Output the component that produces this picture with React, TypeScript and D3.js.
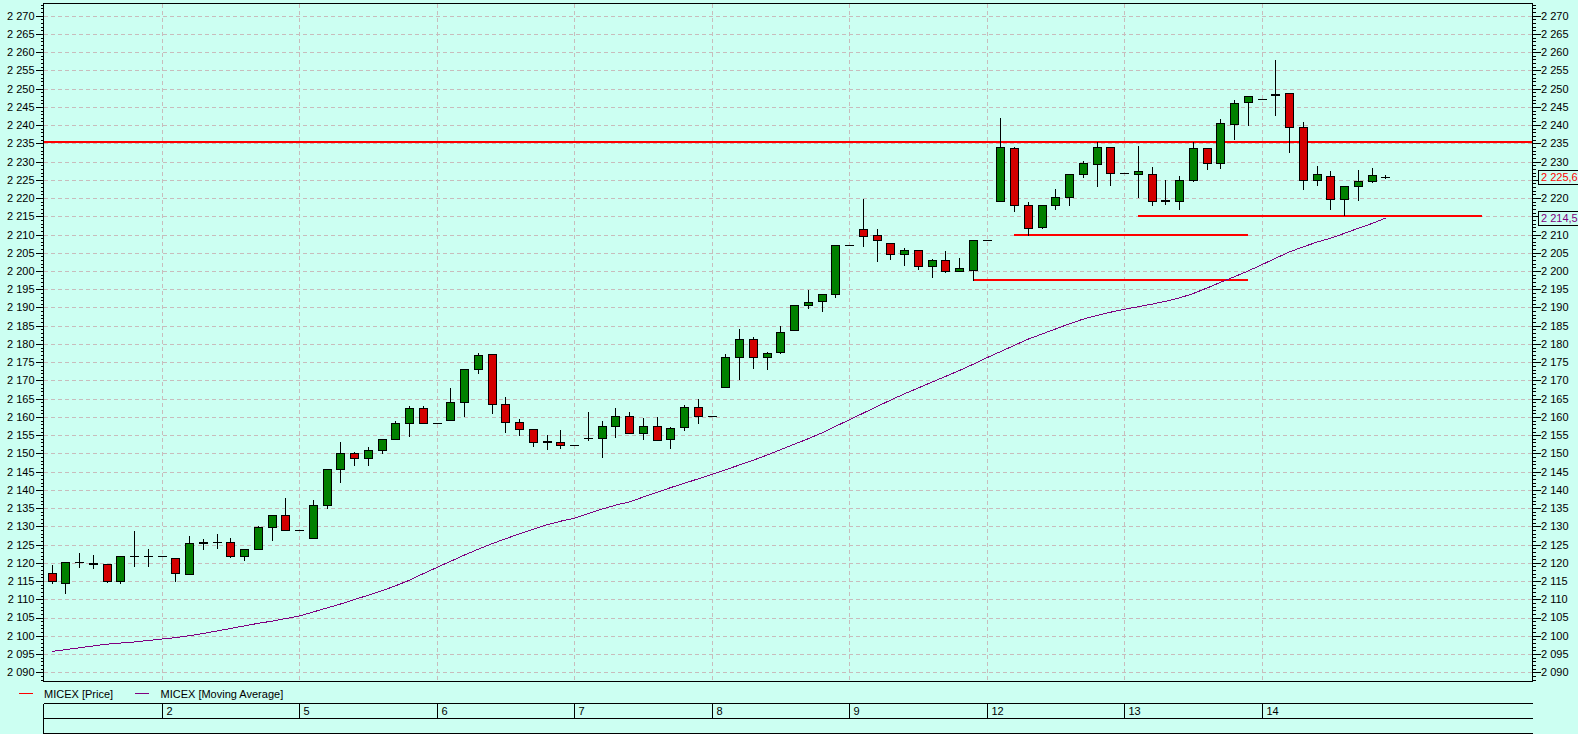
import React from "react";
import * as d3 from "d3";

// ---- data (hourly MICEX candles) ----
const opens = [
  2117.3, 2114.6, 2120.1, 2120.0, 2119.8, 2115.1, 2122.0, 2122.0, 2122.0, 2121.2,
  2116.8, 2125.3, 2125.8, 2125.6, 2122.0, 2123.9, 2129.7, 2133.2, 2129.0, 2126.8,
  2135.8, 2145.7, 2150.1, 2148.7, 2150.9, 2153.9, 2158.3, 2162.4, 2158.3, 2159.2,
  2164.1, 2173.1, 2177.3, 2163.5, 2158.6, 2156.7, 2153.4, 2153.2, 2152.4, 2154.2,
  2154.3, 2157.4, 2160.3, 2155.7, 2157.6, 2154.0, 2157.3, 2162.8, 2160.3, 2168.3,
  2176.3, 2181.5, 2176.3, 2177.9, 2183.7, 2190.8, 2191.9, 2193.8, 2207.0, 2211.4,
  2210.0, 2207.8, 2204.8, 2205.9, 2201.5, 2202.9, 2200.1, 2200.4, 2208.6, 2219.1,
  2233.6, 2218.0, 2212.2, 2218.0, 2220.2, 2226.7, 2229.3, 2233.9, 2226.8, 2226.6,
  2226.6, 2219.4, 2219.3, 2225.0, 2233.8, 2229.7, 2240.3, 2246.4, 2247.1, 2248.5,
  2248.8, 2239.5, 2225.0, 2226.1, 2219.8, 2223.3, 2224.7, 2225.7,
];
const highs = [
  2119.4, 2120.1, 2122.8, 2122.1, 2119.8, 2122.0, 2128.6, 2123.9, 2122.0, 2121.2,
  2127.3, 2126.5, 2127.9, 2126.8, 2123.9, 2130.0, 2133.2, 2137.7, 2129.0, 2137.3,
  2145.7, 2153.1, 2150.4, 2151.8, 2153.9, 2158.9, 2163.0, 2163.0, 2158.3, 2167.9,
  2173.1, 2177.5, 2177.3, 2165.5, 2159.4, 2156.7, 2155.0, 2156.3, 2152.4, 2161.3,
  2158.9, 2162.4, 2161.4, 2159.6, 2159.9, 2157.3, 2163.3, 2165.0, 2160.3, 2177.3,
  2184.2, 2182.0, 2177.9, 2185.0, 2190.8, 2194.9, 2193.8, 2207.0, 2207.0, 2219.7,
  2211.4, 2207.8, 2206.2, 2205.9, 2203.2, 2205.6, 2203.7, 2208.6, 2208.6, 2241.9,
  2233.9, 2218.8, 2218.0, 2222.4, 2226.7, 2230.3, 2235.3, 2233.9, 2226.8, 2234.3,
  2228.5, 2225.0, 2226.1, 2235.4, 2233.8, 2241.7, 2247.0, 2248.0, 2247.1, 2257.9,
  2248.8, 2240.9, 2228.8, 2227.5, 2223.3, 2227.7, 2228.3, 2226.3,
];
const lows = [
  2114.5, 2111.6, 2118.9, 2118.6, 2114.8, 2114.5, 2119.2, 2119.2, 2122.0, 2115.1,
  2116.8, 2123.8, 2124.1, 2121.7, 2120.9, 2123.9, 2126.3, 2129.1, 2129.0, 2126.8,
  2135.0, 2142.1, 2146.7, 2146.7, 2150.0, 2153.9, 2154.7, 2158.3, 2158.3, 2159.2,
  2160.2, 2172.0, 2161.1, 2155.8, 2155.0, 2152.0, 2151.2, 2151.4, 2152.4, 2153.6,
  2148.9, 2154.6, 2155.7, 2154.0, 2153.8, 2151.5, 2156.4, 2158.4, 2160.3, 2168.3,
  2170.4, 2173.5, 2173.2, 2177.6, 2183.7, 2189.8, 2189.1, 2193.0, 2207.0, 2206.9,
  2202.8, 2203.3, 2201.7, 2200.5, 2198.4, 2199.6, 2200.0, 2197.6, 2208.6, 2219.1,
  2216.5, 2210.0, 2211.7, 2217.1, 2218.0, 2225.9, 2223.4, 2223.5, 2226.8, 2220.2,
  2218.0, 2218.3, 2216.9, 2224.7, 2228.0, 2228.3, 2236.1, 2240.1, 2247.1, 2242.9,
  2232.6, 2222.4, 2223.5, 2216.9, 2215.4, 2219.4, 2224.4, 2225.4,
];
const closes = [
  2114.9, 2120.1, 2120.1, 2119.8, 2115.1, 2122.0, 2122.0, 2122.0, 2122.0, 2117.1,
  2125.3, 2125.8, 2125.8, 2122.0, 2123.9, 2129.7, 2133.2, 2129.1, 2129.0, 2135.8,
  2145.7, 2150.1, 2148.7, 2150.9, 2153.9, 2158.3, 2162.4, 2158.3, 2158.3, 2164.1,
  2173.1, 2177.0, 2163.5, 2158.6, 2156.7, 2153.1, 2153.1, 2152.3, 2152.4, 2154.2,
  2157.4, 2160.3, 2155.7, 2157.6, 2153.8, 2157.0, 2162.8, 2160.3, 2160.3, 2176.5,
  2181.5, 2176.3, 2177.6, 2183.4, 2190.8, 2191.6, 2193.8, 2207.0, 2207.0, 2209.7,
  2208.4, 2204.8, 2205.9, 2201.3, 2202.9, 2199.9, 2200.7, 2208.6, 2208.6, 2233.9,
  2218.0, 2211.9, 2218.0, 2220.2, 2226.7, 2229.5, 2233.9, 2226.8, 2226.8, 2227.5,
  2219.3, 2219.2, 2225.0, 2233.8, 2229.7, 2240.6, 2246.1, 2248.0, 2247.1, 2248.3,
  2239.5, 2225.0, 2226.6, 2219.8, 2223.3, 2224.7, 2226.4, 2225.67,
];
const movingAverage = [
  2095.7, 2096.2, 2096.7, 2097.2, 2097.7, 2098.0, 2098.3, 2098.7, 2099.1, 2099.5,
  2100.0, 2100.6, 2101.3, 2102.0, 2102.7, 2103.4, 2104.0, 2104.7, 2105.4, 2106.5,
  2107.6, 2108.7, 2109.9, 2111.1, 2112.3, 2113.7, 2115.2, 2117.0, 2118.7, 2120.4,
  2122.1, 2123.7, 2125.2, 2126.6, 2127.9, 2129.2, 2130.4, 2131.4, 2132.2, 2133.5,
  2134.7, 2135.8, 2136.7, 2138.0, 2139.3, 2140.6, 2141.8, 2143.0, 2144.2, 2145.5,
  2146.8, 2148.1, 2149.5, 2151.0, 2152.5, 2154.0, 2155.6, 2157.4, 2159.2, 2161.0,
  2162.8, 2164.6, 2166.3, 2167.9, 2169.5, 2171.1, 2172.7, 2174.4, 2176.2, 2177.9,
  2179.6, 2181.3, 2182.7, 2184.1, 2185.5, 2186.8, 2187.8, 2188.7, 2189.5, 2190.2,
  2190.9, 2191.7, 2192.6, 2193.8, 2195.3, 2196.9, 2198.4, 2200.0, 2201.7, 2203.5,
  2205.2, 2206.6, 2207.9, 2209.0, 2210.3, 2211.7, 2213.0, 2214.51,
];
const dayLabels = ["2", "5", "6", "7", "8", "9", "12", "13", "14"];
const dayStartIndex = [8, 18, 28, 38, 48, 58, 68, 78, 88];
const levelPrices = [2235.3, 2209.9, 2197.6, 2215.2];
const levelFrom = [null, 70, 67, 79];
const levelTo = [null, 87, 87, 104];
const legendNames = ["MICEX [Price]", "MICEX [Moving Average]"];

// ---- styles ----
const W = 1578, H = 734;
const L = 43.5, R = 1532.5, T = 3.5, B = 681.5;
const BG = "#ccfff2";
const GREEN = "#008000";
const RED = "#d40000";
const LINE_RED = "#ff0000";
const PURPLE = "#800080";
const GRID = "#c8bcbc";
const FONT = "'Liberation Sans', Arial, sans-serif";

const locale = d3.formatLocale({ decimal: ",", thousands: " ", grouping: [3], currency: ["", ""] });
const fmtInt = locale.format(",d");
const fmtDec = locale.format(",.2f");

const px = (v: number) => Math.round(v) + 0.5;

export default function App() {
  const y = d3.scaleLinear().domain([2087.6, 2273.4]).range([681, 3.3]);
  const x = d3.scaleLinear().domain([0, 97]).range([51.7, 1385.45]);
  const majors = d3.range(2090, 2271, 5);
  const minors = d3.range(2088, 2274, 1);
  const maLine = d3
    .line<number>()
    .x((_, i) => x(i))
    .y((d) => y(d));
  const lastClose = closes[closes.length - 1];
  const lastMA = movingAverage[movingAverage.length - 1];
  const boxYs = [y(lastClose), y(lastMA)];
  const rightLabels = majors.filter((v) => boxYs.every((by) => Math.abs(y(v) - by) > 11));

  return (
    <svg
      width={W}
      height={H}
      style={{ position: "absolute", left: 0, top: 0, display: "block" }}
      fontFamily={FONT}
      fontSize={11}
    >
      <rect x={0} y={0} width={W} height={H} fill={BG} />
      {/* grid */}
      <g stroke={GRID} strokeWidth={1} strokeDasharray="4,3" shapeRendering="crispEdges">
        {majors.map((v) => (
          <line key={"h" + v} x1={L} x2={R} y1={px(y(v))} y2={px(y(v))} />
        ))}
        {dayStartIndex.map((i) => (
          <line key={"v" + i} x1={px(x(i))} x2={px(x(i))} y1={T} y2={B} />
        ))}
      </g>
      {/* horizontal level lines */}
      <g stroke={LINE_RED} strokeWidth={2} shapeRendering="crispEdges">
        {levelPrices.map((p, k) => (
          <line
            key={"lv" + k}
            x1={levelFrom[k] == null ? L : x(levelFrom[k] as number)}
            x2={levelTo[k] == null ? R : x(levelTo[k] as number)}
            y1={Math.round(y(p))}
            y2={Math.round(y(p))}
          />
        ))}
      </g>
      {/* moving average */}
      <path d={maLine(movingAverage) || ""} fill="none" stroke={PURPLE} strokeWidth={1} shapeRendering="crispEdges" />
      {/* candles */}
      <g shapeRendering="crispEdges">
        {closes.map((c, i) => {
          const o = opens[i];
          const cx = Math.round(x(i));
          const yh = Math.round(y(highs[i]));
          const yl = Math.round(y(lows[i]));
          const yo = Math.round(y(o));
          const yc = Math.round(y(c));
          const top = Math.min(yo, yc);
          const bot = Math.max(yo, yc);
          return (
            <g key={"c" + i}>
              {yh !== yl && <line x1={cx + 0.5} x2={cx + 0.5} y1={yh} y2={yl + 1} stroke="#000" strokeWidth={1} />}
              {bot - top < 1 ? (
                <line x1={cx - 4} x2={cx + 5} y1={top + 0.5} y2={top + 0.5} stroke="#000" strokeWidth={1} />
              ) : (
                <rect
                  x={cx - 3.5}
                  y={top + 0.5}
                  width={8}
                  height={bot - top}
                  fill={c >= o ? GREEN : RED}
                  stroke="#000"
                  strokeWidth={1}
                />
              )}
            </g>
          );
        })}
      </g>
      {/* plot frame */}
      <rect x={L} y={T} width={R - L} height={B - T} fill="none" stroke="#000" strokeWidth={1} shapeRendering="crispEdges" />
      {/* axes ticks */}
      <g stroke="#000" strokeWidth={1} shapeRendering="crispEdges">
        {minors.map((v) => (
          <line key={"lm" + v} x1={L - 3} x2={L} y1={px(y(v))} y2={px(y(v))} />
        ))}
        {majors.map((v) => (
          <line key={"lM" + v} x1={L - 8} x2={L} y1={px(y(v))} y2={px(y(v))} />
        ))}
        {minors.map((v) => (
          <line key={"rm" + v} x1={R} x2={R + 3} y1={px(y(v))} y2={px(y(v))} />
        ))}
        {majors.map((v) => (
          <line key={"rM" + v} x1={R} x2={R + 8} y1={px(y(v))} y2={px(y(v))} />
        ))}
      </g>
      <g fill="#000">
        {majors.map((v) => (
          <text key={"lt" + v} x={L - 9} y={y(v)} dy="0.36em" textAnchor="end">
            {fmtInt(v)}
          </text>
        ))}
        {rightLabels.map((v) => (
          <text key={"rt" + v} x={R + 8.5} y={y(v)} dy="0.36em">
            {fmtInt(v)}
          </text>
        ))}
      </g>
      {/* last value boxes */}
      <g>
        <rect x={1538.5} y={Math.round(y(lastClose)) - 6.5} width={60} height={14} fill={BG} stroke="#000" />
        <text x={1541} y={y(lastClose)} dy="0.36em" fill={LINE_RED}>
          {fmtDec(lastClose)}
        </text>
        <rect x={1538.5} y={Math.round(y(lastMA)) - 6.5} width={60} height={14} fill={BG} stroke="#000" />
        <text x={1541} y={y(lastMA)} dy="0.36em" fill={PURPLE}>
          {fmtDec(lastMA)}
        </text>
      </g>
      {/* legend */}
      <g>
        <line x1={19} x2={33} y1={693.5} y2={693.5} stroke={LINE_RED} strokeWidth={1} />
        <text x={44} y={697.5} fill="#000">{legendNames[0]}</text>
        <line x1={135} x2={149} y1={693.5} y2={693.5} stroke={PURPLE} strokeWidth={1} />
        <text x={160.5} y={697.5} fill="#000">{legendNames[1]}</text>
      </g>
      {/* date axis */}
      <g stroke="#000" strokeWidth={1} shapeRendering="crispEdges">
        <line x1={L} x2={R} y1={703.5} y2={703.5} />
        <line x1={L} x2={R} y1={718.5} y2={718.5} />
        <line x1={L} x2={R} y1={733.5} y2={733.5} />
        <line x1={L} x2={L} y1={703.5} y2={734} />
        {dayStartIndex.map((i) => (
          <line key={"ds" + i} x1={px(x(i))} x2={px(x(i))} y1={703.5} y2={718.5} />
        ))}
      </g>
      <g fill="#000">
        {dayStartIndex.map((i, k) => (
          <text key={"dl" + i} x={px(x(i)) + 4} y={715}>
            {dayLabels[k]}
          </text>
        ))}
      </g>
    </svg>
  );
}
